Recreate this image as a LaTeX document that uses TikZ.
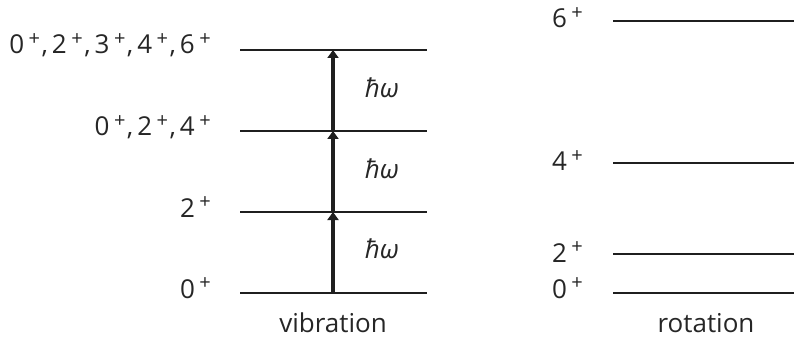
\documentclass[tikz,border=0pt]{standalone}
\usepackage{fontspec}
\setmainfont{Open Sans}
\usetikzlibrary{arrows.meta}
\newcommand{\pp}[1]{#1\kern4.5pt\raisebox{0.34em}{\fontsize{20}{20}\selectfont+}}
\newcommand{\sep}{\kern1.5pt,\kern4pt}
\begin{document}
\begin{tikzpicture}[x=1pt,y=-1pt,
  level/.style={line width=2.2pt,color=black!88},
  jump/.style={line width=3.2pt,color=black!88,-{Triangle[width=11pt,length=8pt]}},
  lab/.style={font=\fontsize{26}{28}\selectfont,inner sep=0pt,text=black!85},
  hw/.style={font=\fontsize{26}{28}\selectfont\itshape,inner sep=0pt,text=black!85}]
\useasboundingbox (0,0) rectangle (794,339);
% vibration levels
\foreach \n/\y in {0/293,1/212,2/131,3/50}{
  \coordinate (vl\n) at (240,\y);
  \coordinate (vr\n) at (427,\y);
  \coordinate (va\n) at (333,\y);
  \draw[level] (vl\n) -- (vr\n);
}
\draw[jump] (va0) -- (va1);
\draw[jump] (va1) -- (va2);
\draw[jump] (va2) -- (va3);
\node[hw] (h1) at (382,249) {ħω};
\node[hw] (h2) at (382,169) {ħω};
\node[hw] (h3) at (382,88) {ħω};
\node[lab,anchor=base east] (l0) at (211,298) {\pp{0}};
\node[lab,anchor=base east] (l1) at (211,217) {\pp{2}};
\node[lab,anchor=base east] (l2) at (211,136) {\pp{0}\sep\pp{2}\sep\pp{4}};
\node[lab,anchor=base east] (l3) at (211,54) {\pp{0}\sep\pp{2}\sep\pp{3}\sep\pp{4}\sep\pp{6}};
\node[lab,anchor=base] (vib) at (333,332) {vibration};
% rotation levels
\foreach \n/\y in {0/293,2/254,4/163,6/21}{
  \coordinate (rl\n) at (613,\y);
  \coordinate (rr\n) at (794,\y);
  \draw[level] (rl\n) -- (rr\n);
}
\node[lab,anchor=base east] (r0) at (583,298) {\pp{0}};
\node[lab,anchor=base east] (r2) at (583,262) {\pp{2}};
\node[lab,anchor=base east] (r4) at (583,171) {\pp{4}};
\node[lab,anchor=base east] (r6) at (583,28) {\pp{6}};
\node[lab,anchor=base] (rot) at (706,332) {rotation};
\end{tikzpicture}
\end{document}
